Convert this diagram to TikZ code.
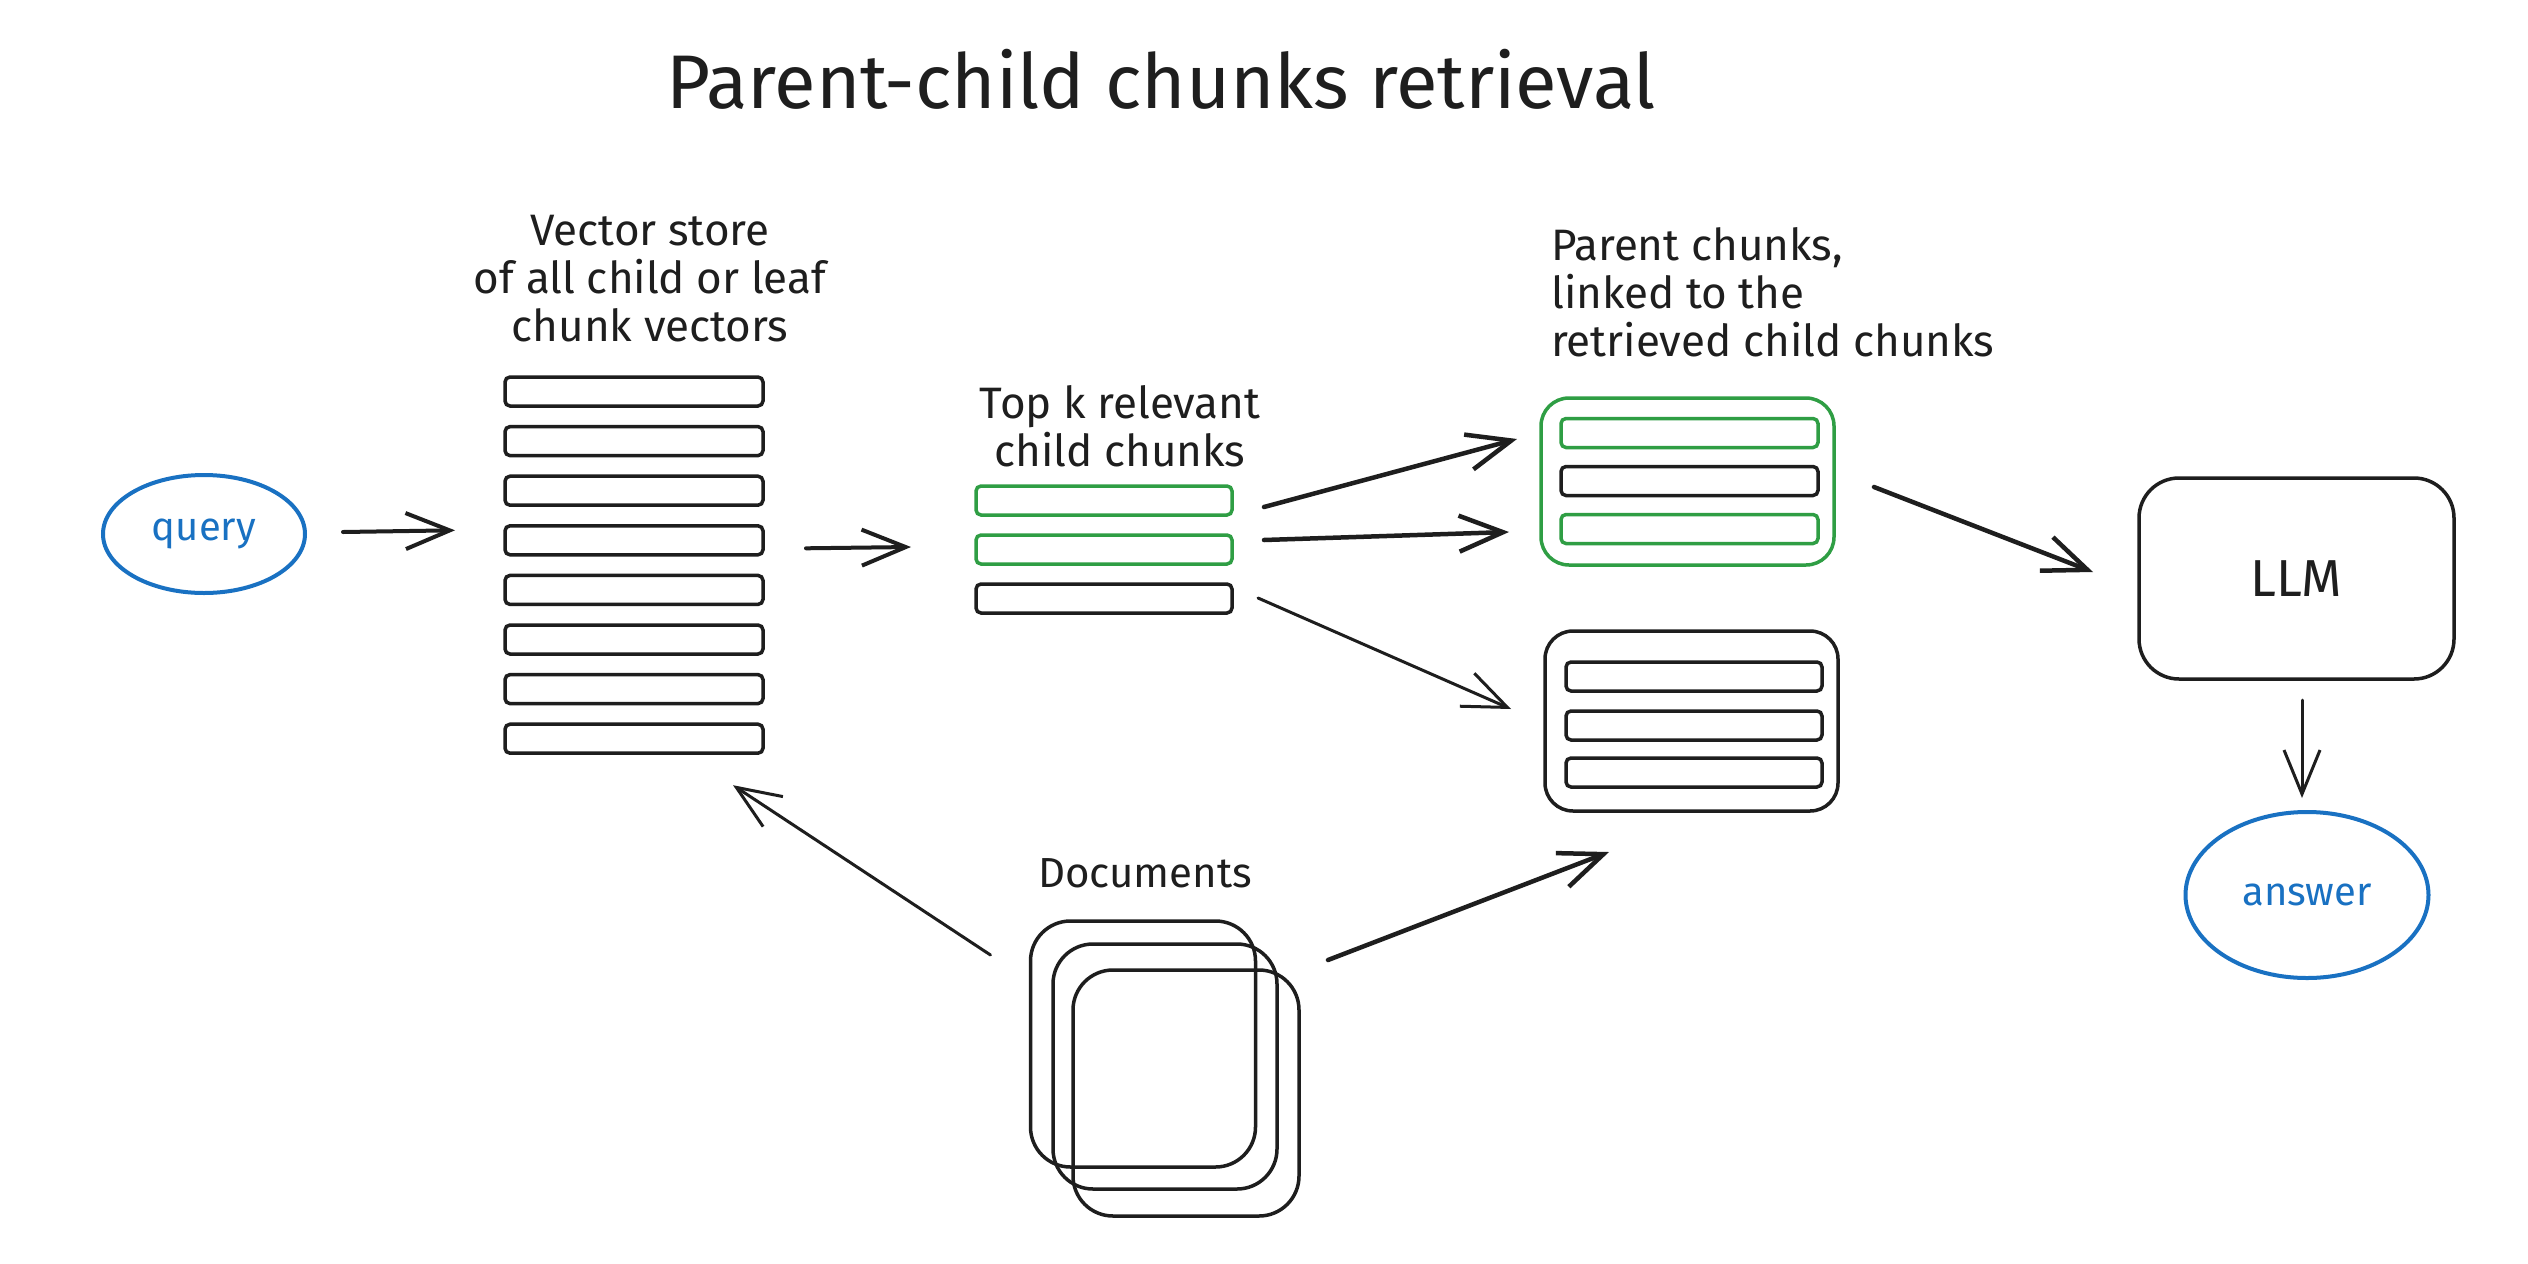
\documentclass[tikz,border=0pt]{standalone}
\usepackage{fontspec}
\setmainfont{Fira Sans}
\usetikzlibrary{arrows.meta,shapes.geometric}
\definecolor{ink}{HTML}{1E1E1E}
\definecolor{eblue}{HTML}{1971C2}
\definecolor{egreen}{HTML}{2F9E44}
\begin{document}
\begin{tikzpicture}[x=1pt,y=-1pt,
  bar/.style={draw=ink, line width=3.5pt, rounded corners=5pt, minimum width=256pt, minimum height=29pt, inner sep=0pt, outer sep=0pt},
  gbar/.style={bar, draw=egreen},
  frame/.style={draw=ink, line width=3.5pt, rounded corners=28pt, inner sep=0pt, outer sep=0pt},
  gframe/.style={frame, draw=egreen},
  docbox/.style={draw=ink, line width=3.5pt, rounded corners=40pt, inner sep=0pt, outer sep=0pt, minimum width=225pt, minimum height=246pt},
  oval/.style={ellipse, draw=eblue, line width=4pt, inner sep=0pt, outer sep=0pt, text=eblue, font=\fontsize{40}{44}\selectfont},
  lbl/.style={text=ink, inner sep=0pt, font=\fontsize{44}{48}\selectfont},
  arr/.style={draw=ink, line width=4pt, line cap=round, -{Straight Barb[length=44pt,width=36pt]}},
  thinarr/.style={arr, line width=3pt}
]
\fill[white] (0,0) rectangle (2528,1264);
\useasboundingbox (0,0) rectangle (2528,1264);

% title
\node[text=ink, inner sep=0pt, font=\fontsize{76}{80}\selectfont] (title) at (1161,79) {Parent-child chunks retrieval};

% query
\node[oval, minimum width=202pt, minimum height=118pt] (query) at (204,534) {query};

% vector store
\node[lbl, align=center] (vslabel) at (650,279) {Vector store\\of all child or leaf\\chunk vectors};
\foreach \i in {1,...,8}
  \node[bar, minimum width=258pt] (vs\i) at ({634},{391.5+49.6*(\i-1)}) {};

% top k
\node[lbl, align=center] (tklabel) at (1120,426) {Top k relevant\\child chunks};
\node[gbar] (tk1) at (1104,500.5) {};
\node[gbar] (tk2) at (1104,549.5) {};
\node[bar]  (tk3) at (1104,598.5) {};

% parent chunks
\node[lbl, align=left, anchor=west] (pclabel) at (1551,292) {Parent chunks,\\linked to the\\retrieved child chunks};
\node[gframe, minimum width=293pt, minimum height=167pt] (gp) at (1687.5,481.5) {};
\node[gbar, minimum width=257pt] (gpb1) at (1689.5,433) {};
\node[bar,  minimum width=257pt] (gpb2) at (1689.5,481) {};
\node[gbar, minimum width=257pt] (gpb3) at (1689.5,529) {};

\node[frame, minimum width=293pt, minimum height=180pt] (bp) at (1691.5,721) {};
\node[bar] (bpb1) at (1694,676.5) {};
\node[bar] (bpb2) at (1694,725.5) {};
\node[bar] (bpb3) at (1694,772.5) {};

% LLM and answer
\node[frame, rounded corners=40pt, minimum width=315pt, minimum height=201pt, text=ink, font=\fontsize{52}{56}\selectfont] (llm) at (2296.5,578.5) {LLM};
\node[oval, minimum width=243pt, minimum height=166pt] (ans) at (2307,895) {answer};

% documents
\node[lbl, font=\fontsize{42}{46}\selectfont] (doclabel) at (1145,873) {Documents};
\node[docbox] (doc1) at (1143,1044) {};
\node[docbox, minimum width=224pt, minimum height=245pt] (doc2) at (1165,1066.5) {};
\node[docbox, minimum width=226pt] (doc3) at (1186,1093) {};

% connectors
\draw[arr] ([shift={(38,-2)}]query.east) -- ([shift={(-50,-10)}]vs4.west);
\draw[arr] ([shift={(43,8)}]vs4.east) -- ([shift={(-65,-2.5)}]tk2.west);
\draw[arr, line width=4.5pt] ([shift={(32,6.5)}]tk1.east) -- ([shift={(-44,6)}]gpb1.west);
\draw[arr, line width=4.5pt] ([shift={(32,-9.5)}]tk2.east) -- ([shift={(-52,3)}]gpb3.west);
\draw[thinarr] ([shift={(26,-0.5)}]tk3.east) -- ([shift={(-34,-12)}]bp.west);
\draw[arr, line width=4.5pt] ([shift={(40,5.5)}]gp.east) -- ([shift={(-46,-6.5)}]llm.west);
\draw[thinarr] ([shift={(5.5,21)}]llm.south) -- ([shift={(-5,-14)}]ans.north);
\draw[thinarr] ([shift={(-40,-89)}]doc1.west) -- ([shift={(99,32)}]vs8.south);
\draw[arr, line width=4.5pt] ([shift={(29,-133)}]doc3.east) -- ([shift={(-82.5,41)}]bp.south);
\end{tikzpicture}
\end{document}
